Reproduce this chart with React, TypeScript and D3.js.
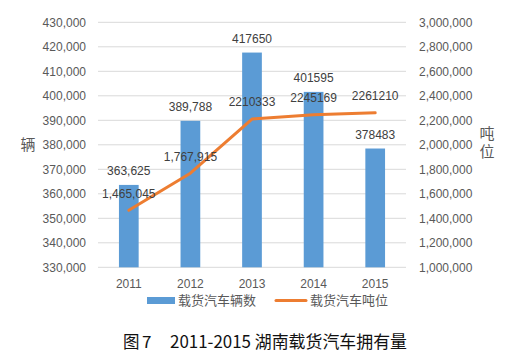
import React from "react";
import * as d3 from "d3";

const categories = ["2011", "2012", "2013", "2014", "2015"];
const vehicleCounts = [363625, 389788, 417650, 401595, 378483];
const vehicleLabels = ["363,625", "389,788", "417650", "401595", "378483"];
const tonnage = [1465045, 1767915, 2210333, 2245169, 2261210];
const tonnageLabels = ["1,465,045", "1,767,915", "2210333", "2245169", "2261210"];
const leftTicks = [330000, 340000, 350000, 360000, 370000, 380000, 390000, 400000, 410000, 420000, 430000];
const rightTicks = [1000000, 1200000, 1400000, 1600000, 1800000, 2000000, 2200000, 2400000, 2600000, 2800000, 3000000];
const seriesNames = ["载货汽车辆数", "载货汽车吨位"];
const axisTitles = ["辆", "吨位"];
const titleText = ["图", "7", "2011-2015 湖南载货汽车拥有量"];

const W = 509;
const H = 361;
const plot = { left: 98, right: 406, top: 22.3, bottom: 267.3 };
const BLUE = "#5B9BD5";
const ORANGE = "#ED7D31";
const TXT = "#595959";
const FONT = "'Liberation Sans', 'Noto Sans CJK SC', sans-serif";
const CJK = "'Noto Sans CJK SC', sans-serif";

export default function App() {
  const x = d3.scaleBand<string>().domain(categories).range([plot.left, plot.right]).paddingInner(0.68).paddingOuter(0.34);
  const yL = d3.scaleLinear().domain([330000, 430000]).range([plot.bottom, plot.top]);
  const yR = d3.scaleLinear().domain([1000000, 3000000]).range([plot.bottom, plot.top]);
  const cx = (c: string) => (x(c) as number) + x.bandwidth() / 2;
  const fmt = d3.format(",");
  const line = d3
    .line<number>()
    .x((_, i) => cx(categories[i]))
    .y((d) => yR(d));

  return (
    <svg width={W} height={H} style={{ position: "absolute", left: 0, top: 0, background: "#fff" }}>
      <rect x={0} y={0} width={W} height={H} fill="#fff" />
      {leftTicks.map((t) => (
        <line key={"g" + t} x1={plot.left} x2={plot.right} y1={yL(t)} y2={yL(t)} stroke="#D9D9D9" strokeWidth={1} />
      ))}
      {leftTicks.map((t) => (
        <text key={"l" + t} x={86} y={yL(t)} dy="0.35em" textAnchor="end" fontSize={12} fill={TXT} fontFamily={FONT}>
          {fmt(t)}
        </text>
      ))}
      {rightTicks.map((t) => (
        <text key={"r" + t} x={419} y={yR(t)} dy="0.35em" textAnchor="start" fontSize={12} fill={TXT} fontFamily={FONT}>
          {fmt(t)}
        </text>
      ))}
      {categories.map((c, i) => (
        <rect key={"b" + c} x={x(c)} y={yL(vehicleCounts[i])} width={x.bandwidth()} height={yL(330000) - yL(vehicleCounts[i])} fill={BLUE} />
      ))}
      <path d={line(tonnage) || ""} fill="none" stroke={ORANGE} strokeWidth={3} strokeLinecap="round" strokeLinejoin="round" />
      {categories.map((c, i) => (
        <text key={"vl" + c} x={cx(c)} y={yL(vehicleCounts[i]) - 9.7} textAnchor="middle" fontSize={12} fill="#404040" fontFamily={FONT}>
          {vehicleLabels[i]}
        </text>
      ))}
      {categories.map((c, i) => (
        <text key={"tl" + c} x={cx(c)} y={yR(tonnage[i]) - 12.7} textAnchor="middle" fontSize={12} fill="#404040" fontFamily={FONT}>
          {tonnageLabels[i]}
        </text>
      ))}
      {categories.map((c) => (
        <text key={"c" + c} x={cx(c)} y={283.5} dy="0.35em" textAnchor="middle" fontSize={12} fill={TXT} fontFamily={FONT}>
          {c}
        </text>
      ))}
      <text x={28} y={145} dy="0.35em" textAnchor="middle" fontSize={15} fill={TXT} fontFamily={CJK}>{axisTitles[0]}</text>
      <text
        x={487}
        y={144}
        textAnchor="middle"
        fontSize={15}
        fill={TXT}
        fontFamily={CJK}
        letterSpacing={3}
        style={{ writingMode: "vertical-rl", textOrientation: "upright" } as React.CSSProperties}
      >
        {axisTitles[1]}
      </text>
      <rect x={147} y={297} width={28} height={7} fill={BLUE} />
      <text x={178} y={300.5} dy="0.35em" fontSize={13} fill={TXT} fontFamily={CJK}>{seriesNames[0]}</text>
      <line x1={276} x2={306} y1={300.5} y2={300.5} stroke={ORANGE} strokeWidth={3} strokeLinecap="round" />
      <text x={310} y={300.5} dy="0.35em" fontSize={13} fill={TXT} fontFamily={CJK}>{seriesNames[1]}</text>
      <text x={123} y={342} dy="0.35em" fontSize={16.5} fill="#111" fontFamily={CJK}>{titleText[0]}</text>
      <text x={142} y={342} dy="0.35em" fontSize={17} fill="#111" fontFamily={CJK}>{titleText[1]}</text>
      <text x={170} y={342} dy="0.35em" fontSize={17.5} fill="#111" fontFamily={CJK} textLength={237} lengthAdjust="spacingAndGlyphs">{titleText[2]}</text>
    </svg>
  );
}
